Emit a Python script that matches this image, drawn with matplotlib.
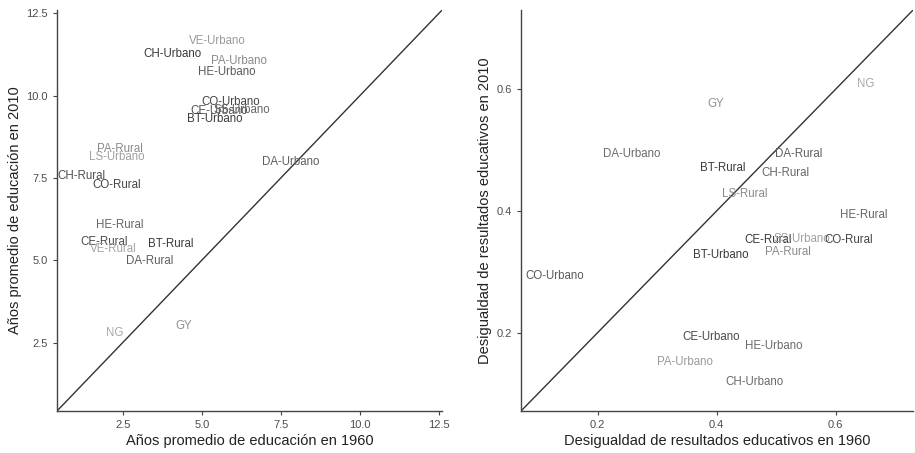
import matplotlib
matplotlib.use("Agg")
import matplotlib.pyplot as plt

plt.rcParams['font.family'] = ['Liberation Sans', 'DejaVu Sans']

# Años promedio de educación (1960 vs 2010)
edu_labels = ["VE-Urbano", "CH-Urbano", "PA-Urbano", "HE-Urbano", "CO-Urbano",
              "CE-Urbano", "SS-Urbano", "BT-Urbano", "DA-Urbano", "PA-Rural",
              "LS-Urbano", "CH-Rural", "CO-Rural", "HE-Rural", "CE-Rural",
              "VE-Rural", "BT-Rural", "DA-Rural", "NG", "GY"]
edu_1960 = [5.49, 4.07, 6.18, 5.80, 5.90, 5.55, 6.27, 5.42, 7.81, 2.41,
            2.31, 1.18, 2.31, 2.41, 1.90, 2.19, 4.01, 3.35, 2.25, 4.42]
edu_2010 = [11.65, 11.28, 11.04, 10.73, 9.82, 9.54, 9.57, 9.30, 7.99, 8.38,
            8.14, 7.56, 7.29, 6.07, 5.55, 5.34, 5.49, 4.97, 2.80, 2.99]
edu_colors = ["#9a9a9a", "#3a3a3a", "#8a8a8a", "#5a5a5a", "#444444",
              "#555555", "#666666", "#3a3a3a", "#5e5e5e", "#8a8a8a",
              "#a0a0a0", "#505050", "#444444", "#666666", "#4a4a4a",
              "#a5a5a5", "#3a3a3a", "#5e5e5e", "#a8a8a8", "#909090"]

# Desigualdad de resultados educativos (1960 vs 2010)
ineq_labels = ["NG", "GY", "DA-Urbano", "BT-Rural", "DA-Rural", "CH-Rural",
               "LS-Rural", "HE-Rural", "CE-Rural", "SS-Urbano", "CO-Rural",
               "BT-Urbano", "PA-Rural", "CO-Urbano", "CE-Urbano", "HE-Urbano",
               "PA-Urbano", "CH-Urbano"]
ineq_1960 = [0.650, 0.399, 0.257, 0.411, 0.538, 0.515, 0.448, 0.647, 0.486,
             0.543, 0.622, 0.406, 0.520, 0.128, 0.391, 0.496, 0.346, 0.464]
ineq_2010 = [0.608, 0.575, 0.493, 0.470, 0.493, 0.463, 0.427, 0.393, 0.352,
             0.353, 0.352, 0.327, 0.333, 0.293, 0.193, 0.178, 0.152, 0.118]
ineq_colors = ["#a8a8a8", "#909090", "#6a6a6a", "#3a3a3a", "#5e5e5e", "#666666",
               "#8a8a8a", "#666666", "#3a3a3a", "#a0a0a0", "#444444",
               "#3a3a3a", "#8a8a8a", "#5a5a5a", "#4a4a4a", "#6a6a6a",
               "#9a9a9a", "#6a6a6a"]

edu_ticks = [2.5, 5.0, 7.5, 10.0, 12.5]
ineq_ticks = [0.2, 0.4, 0.6]


def style_axes(ax):
    for side in ("top", "right"):
        ax.spines[side].set_visible(False)
    for side in ("left", "bottom"):
        ax.spines[side].set_color("#444444")
        ax.spines[side].set_linewidth(1.0)
    ax.tick_params(colors="#444444", labelcolor="#4d4d4d", labelsize=8,
                   length=3, width=0.8)


def draw_panel(ax, xs, ys, labels, colors, lims, ticks, fmt, xlabel, ylabel):
    # identity line: same value in both years
    ax.plot(lims, lims, color="#333333", linewidth=1.0)
    for x, y, lab, col in zip(xs, ys, labels, colors):
        ax.text(x, y, lab, color=col, fontsize=8.3, ha="center", va="center")
    ax.set_xlim(lims)
    ax.set_ylim(lims)
    ax.set_xticks(ticks)
    ax.set_yticks(ticks)
    ax.set_xticklabels([fmt.format(t) for t in ticks])
    ax.set_yticklabels([fmt.format(t) for t in ticks])
    ax.set_xlabel(xlabel, fontsize=10.5, color="#222222", labelpad=3)
    ax.set_ylabel(ylabel, fontsize=10.5, color="#222222", labelpad=3)
    style_axes(ax)


fig = plt.figure(figsize=(9.15, 4.53), dpi=100)
ax1 = fig.add_axes([0.0623, 0.0927, 0.4208, 0.885])
ax2 = fig.add_axes([0.5694, 0.0927, 0.4284, 0.885])

draw_panel(ax1, edu_1960, edu_2010, edu_labels, edu_colors, (0.42, 12.6),
           edu_ticks, "{:.1f}",
           "Años promedio de educación en 1960",
           "Años promedio de educación en 2010")
draw_panel(ax2, ineq_1960, ineq_2010, ineq_labels, ineq_colors, (0.071, 0.73),
           ineq_ticks, "{:.1f}",
           "Desigualdad de resultados educativos en 1960",
           "Desigualdad de resultados educativos en 2010")

fig.savefig("out.png", dpi=100)
